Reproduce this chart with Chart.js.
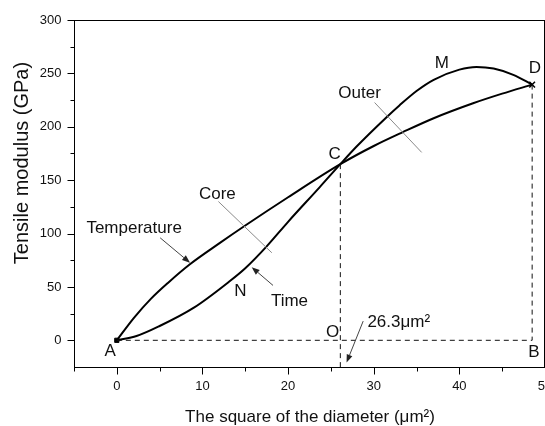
<!DOCTYPE html>
<html><head><meta charset="utf-8">
<script src="https://cdn.jsdelivr.net/npm/chart.js@4/dist/chart.umd.min.js"></script>
<style>html,body{margin:0;padding:0;background:#fff}#wrap{width:545px;height:426px;position:relative}canvas{display:block}</style>
</head><body><div id="wrap"><canvas id="c" width="545" height="426"></canvas></div>
<script>
const FONT = '"Liberation Sans", Arial, Helvetica, sans-serif';

// Curves (x: square of diameter in μm², y: tensile modulus in GPa)
const tempX = [0, 2, 4, 6, 8.5, 12, 15, 20, 26.1, 30, 33.4, 37, 41.6, 45, 48.5];
const tempY = [0, 21, 39, 54, 71, 91, 107.5, 134, 165, 182, 195, 208, 222, 231, 239.5];
const timeX = [0, 2.3, 5, 9, 13.2, 15, 17.5, 20, 23.7, 26.1, 28, 31.5, 33, 35, 37, 40, 42, 44, 46.3, 48.5];
const timeY = [0, 4, 13.4, 30.6, 55.5, 67.5, 88, 111, 143.5, 165, 181.5, 209, 220, 233.5, 244, 253.5, 256, 254.5, 248.6, 239.5];

// Axes
const xTicks = [0, 10, 20, 30, 40, 50];
const yTicks = [0, 50, 100, 150, 200, 250, 300];
const xMinor = [-5, 5, 15, 25, 35, 45];
const yMinor = [25, 75, 125, 175, 225, 275];
const xRange = [-5, 50];
const yRange = [-25, 300];

// Key points
const pointA = [0, 0];
const pointC = [26.1, 165];
const pointD = [48.5, 239.5];
const pointB = [48.5, 0];

// Annotations (data coordinates)
const labelTexts = ['A', 'B', 'C', 'D', 'M', 'N', 'O', 'Core', 'Outer', 'Temperature', 'Time', '26.3μm²'];
const labelPos = {
  'A': [-0.78, -10.0], 'B': [48.72, -11.0], 'C': [25.43, 174.5], 'D': [48.83, 255.0],
  'M': [37.95, 259.7], 'N': [14.43, 46.2], 'O': [25.2, 7.8], 'Core': [11.74, 137.0],
  'Outer': [28.35, 231.6], 'Temperature': [2.02, 105.2], 'Time': [20.16, 36.8], '26.3μm²': [32.92, 17.1]
};
const pointerLines = [ [[11.86, 130], [18.1, 82]], [[30.1, 222.7], [35.6, 176]] ];
const arrows = [ [[5.06, 96], [8.55, 72.6]], [[18.24, 51.4], [15.75, 68.5]], [[28.77, 18.0], [26.83, -20.8]] ];

const xyOf = (xs, ys) => xs.map((x, i) => ({x, y: ys[i]}));

const annot = {
  id: 'annot',
  afterDatasetsDraw(chart) {
    const ctx = chart.ctx, xs = chart.scales.x, ys = chart.scales.y;
    const P = (p) => [xs.getPixelForValue(p[0]), ys.getPixelForValue(p[1])];
    ctx.save();
    ctx.strokeStyle = '#8a8a8a'; ctx.lineWidth = 1;
    pointerLines.forEach(l => {
      const a = P(l[0]), b = P(l[1]);
      ctx.beginPath(); ctx.moveTo(a[0], a[1]); ctx.lineTo(b[0], b[1]); ctx.stroke();
    });
    ctx.strokeStyle = '#444'; ctx.fillStyle = '#222'; ctx.lineWidth = 1;
    arrows.forEach(l => {
      const a = P(l[0]), b = P(l[1]);
      const ang = Math.atan2(b[1] - a[1], b[0] - a[0]);
      const L = 8, W = 3;
      const bx = b[0] - L * Math.cos(ang), by = b[1] - L * Math.sin(ang);
      ctx.beginPath(); ctx.moveTo(a[0], a[1]); ctx.lineTo(bx, by); ctx.stroke();
      ctx.beginPath();
      ctx.moveTo(b[0], b[1]);
      ctx.lineTo(bx + W * Math.sin(ang), by - W * Math.cos(ang));
      ctx.lineTo(bx - W * Math.sin(ang), by + W * Math.cos(ang));
      ctx.closePath(); ctx.fill();
    });
    ctx.fillStyle = '#111';
    ctx.font = '17px ' + FONT;
    ctx.textAlign = 'center'; ctx.textBaseline = 'middle';
    labelTexts.forEach(t => {
      const p = P(labelPos[t]);
      ctx.fillText(t, p[0], p[1]);
    });
    ctx.restore();
  },
  afterDraw(chart) {
    const ctx = chart.ctx, xs = chart.scales.x, ys = chart.scales.y;
    ctx.save();
    ctx.strokeStyle = '#000'; ctx.lineWidth = 1;
    const L = Math.round(xs.getPixelForValue(xRange[0])) + 0.5, R = Math.round(xs.getPixelForValue(xRange[1])) - 0.5;
    const T = Math.round(ys.getPixelForValue(yRange[1])) + 0.5, B = Math.round(ys.getPixelForValue(yRange[0])) + 0.5;
    ctx.strokeRect(L, T, R - L, B - T);
    ctx.beginPath();
    xTicks.forEach(v => { const px = Math.round(xs.getPixelForValue(v)) + 0.5; ctx.moveTo(px, B); ctx.lineTo(px, B + 7); });
    xMinor.forEach(v => { const px = Math.round(xs.getPixelForValue(v)) + 0.5; ctx.moveTo(px, B); ctx.lineTo(px, B + 4); });
    yTicks.forEach(v => { const py = Math.round(ys.getPixelForValue(v)) + 0.5; ctx.moveTo(L, py); ctx.lineTo(L - 7, py); });
    yMinor.forEach(v => { const py = Math.round(ys.getPixelForValue(v)) + 0.5; ctx.moveTo(L, py); ctx.lineTo(L - 4, py); });
    ctx.stroke();
    // tick labels
    ctx.fillStyle = '#111';
    ctx.font = '13px ' + FONT;
    ctx.textAlign = 'center'; ctx.textBaseline = 'middle';
    xTicks.forEach(v => ctx.fillText(String(v), xs.getPixelForValue(v), B + 19));
    ctx.textAlign = 'right';
    yTicks.forEach(v => ctx.fillText(String(v), L - 13, ys.getPixelForValue(v)));
    // axis titles
    ctx.font = '17px ' + FONT;
    ctx.textAlign = 'center'; ctx.textBaseline = 'alphabetic';
    ctx.fillText('The square of the diameter (μm²)', 310, 422);
    ctx.translate(22, 163); ctx.rotate(-Math.PI / 2);
    ctx.font = '20px ' + FONT; ctx.textBaseline = 'middle';
    ctx.fillText('Tensile modulus (GPa)', 0, 0);
    ctx.restore();
  }
};

const solid = (data) => ({ data, borderColor: '#000', borderWidth: 2, pointRadius: 0, fill: false, cubicInterpolationMode: 'monotone' });
const dashed = (data) => ({ data, borderColor: '#111', borderWidth: 1, borderDash: [5, 4], pointRadius: 0, fill: false, tension: 0 });

new Chart(document.getElementById('c'), {
  type: 'line',
  data: {
    datasets: [
      dashed([{x: pointA[0], y: pointA[1]}, {x: pointB[0], y: pointB[1]}]),
      dashed([{x: pointC[0], y: pointC[1]}, {x: pointC[0], y: yRange[0]}]),
      dashed([{x: pointD[0], y: pointD[1]}, {x: pointB[0], y: pointB[1]}]),
      solid(xyOf(tempX, tempY)),
      solid(xyOf(timeX, timeY)),
      { data: [{x: pointA[0], y: pointA[1]}], pointStyle: 'rect', pointRadius: 3, backgroundColor: '#000', borderColor: '#000', showLine: false },
      { data: [{x: pointD[0], y: pointD[1]}], pointStyle: 'crossRot', pointRadius: 4, borderWidth: 1.5, borderColor: '#000', showLine: false }
    ]
  },
  plugins: [annot],
  options: {
    responsive: false,
    animation: false,
    devicePixelRatio: 1,
    layout: { autoPadding: false, padding: { top: 20, right: 0, left: 0, bottom: 0 } },
    plugins: { legend: { display: false }, tooltip: { enabled: false } },
    scales: {
      x: {
        type: 'linear', min: xRange[0], max: xRange[1],
        afterBuildTicks: s => { s.ticks = xTicks.map(v => ({value: v})); },
        afterFit: s => { s.height = 59; },
        grid: { display: false }, border: { display: false },
        ticks: { display: false }
      },
      y: {
        type: 'linear', min: yRange[0], max: yRange[1],
        afterBuildTicks: s => { s.ticks = yTicks.map(v => ({value: v})); },
        afterFit: s => { s.width = 74; },
        grid: { display: false }, border: { display: false },
        ticks: { display: false }
      }
    }
  }
});
</script></body></html>
